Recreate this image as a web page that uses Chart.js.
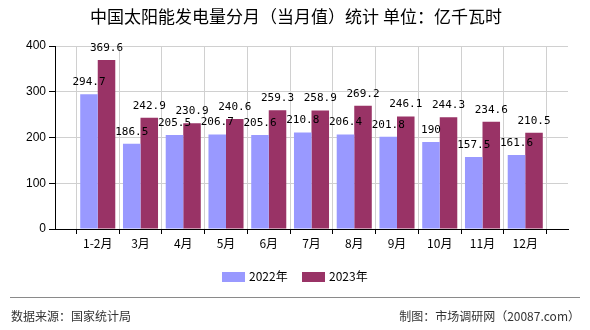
<!DOCTYPE html>
<html>
<head>
<meta charset="utf-8">
<script src="https://cdn.jsdelivr.net/npm/chart.js@4"></script>
<style>
  html, body { margin: 0; padding: 0; background: #fff; }
  #wrap { position: relative; width: 590px; height: 330px; overflow: hidden; font-family: "Noto Sans CJK SC", "Liberation Sans", sans-serif; }
  #chart { position: absolute; left: 0; top: 0; }
  .title { position: absolute; left: 0; width: 592px; top: 5px; text-align: center; font-size: 17px; line-height: 22px; color: #000; }
  .legend { position: absolute; top: 268px; left: 0; width: 590px; font-size: 12px; line-height: 16px; }
  .legend .item { position: absolute; top: 0; }
  .legend .box { position: absolute; top: 4px; width: 23px; height: 10px; }
  .legend .txt { position: absolute; left: 27px; top: 0; white-space: nowrap; }
  .sep { position: absolute; left: 10px; width: 570px; top: 297px; height: 1px; background: #8a8a8a; }
  .foot { position: absolute; top: 308px; font-size: 12px; line-height: 16px; color: #333; white-space: nowrap; }
</style>
</head>
<body>
<div id="wrap">
  <canvas id="chart" width="590" height="330"></canvas>
  <div class="title">中国太阳能发电量分月（当月值）统计 单位：亿千瓦时</div>
  <div class="legend" id="legend"></div>
  <div class="sep"></div>
  <div class="foot" style="left:11px">数据来源：国家统计局</div>
  <div class="foot" style="right:10px">制图：市场调研网（20087.com）</div>
</div>
<script>
// months, padded with an empty slot on each end like the original axis
const months = ['', '1-2月', '3月', '4月', '5月', '6月', '7月', '8月', '9月', '10月', '11月', '12月', ''];
const values2022 = [null, 294.7, 186.5, 205.5, 206.7, 205.6, 210.8, 206.4, 201.8, 190, 157.5, 161.6, null];
const values2023 = [null, 369.6, 242.9, 230.9, 240.6, 259.3, 258.9, 269.2, 246.1, 244.3, 234.6, 210.5, null];
const yTicks = [0, 100, 200, 300, 400];

const COLORS = { y2022: '#9999ff', y2023: '#993366' };

// value labels over each bar
const barLabels = {
  id: 'barLabels',
  afterDatasetsDraw(chart) {
    const ctx = chart.ctx;
    ctx.save();
    ctx.font = '11px "DejaVu Sans Mono", monospace';
    ctx.fillStyle = '#000';
    ctx.textAlign = 'center';
    ctx.textBaseline = 'middle';
    chart.data.datasets.forEach((ds, i) => {
      chart.getDatasetMeta(i).data.forEach((bar, j) => {
        const v = ds.data[j];
        if (v == null) return;
        ctx.fillText(String(v), bar.x, bar.y - 12);
      });
    });
    ctx.restore();
  }
};

const chart = new Chart(document.getElementById('chart'), {
  type: 'bar',
  data: {
    labels: months,
    datasets: [
      { label: '2022年', data: values2022, backgroundColor: COLORS.y2022, borderWidth: 0 },
      { label: '2023年', data: values2023, backgroundColor: COLORS.y2023, borderWidth: 0 }
    ]
  },
  options: {
    responsive: false,
    animation: false,
    devicePixelRatio: 1,
    categoryPercentage: 0.82,
    barPercentage: 1,
    layout: { padding: { left: 0, top: 46, right: 22, bottom: 71 } },
    plugins: { legend: { display: false }, tooltip: { enabled: false }, title: { display: false } },
    scales: {
      x: {
        offset: false,
        grid: { color: '#d0d0d0', tickColor: '#000', tickLength: 5, drawTicks: true },
        border: { color: '#000' },
        ticks: { autoSkip: false, maxRotation: 0, padding: 2, color: '#000', font: { size: 12, family: '"Noto Sans CJK SC", "Liberation Sans", sans-serif' } },
        afterFit(scale) { scale.height = 30; }
      },
      y: {
        min: yTicks[0],
        max: yTicks[yTicks.length - 1],
        afterBuildTicks(scale) { scale.ticks = yTicks.map((v) => ({ value: v })); },
        grid: { color: '#d0d0d0', tickColor: '#000', tickLength: 6 },
        border: { color: '#000' },
        ticks: { padding: 3, color: '#000', font: { size: 12, family: '"Liberation Sans", sans-serif' } },
        afterFit(scale) { scale.width = 55; }
      }
    }
  },
  plugins: [barLabels]
});

// legend drawn as html, centred under the plot
const legendItems = [
  { text: '2022年', color: COLORS.y2022, left: 222 },
  { text: '2023年', color: COLORS.y2023, left: 302 }
];
document.getElementById('legend').innerHTML = legendItems.map((it) => `
  <div class="item" style="left:${it.left}px">
    <div class="box" style="background:${it.color}"></div>
    <div class="txt">${it.text}</div>
  </div>
`).join('');
</script>
</body>
</html>
